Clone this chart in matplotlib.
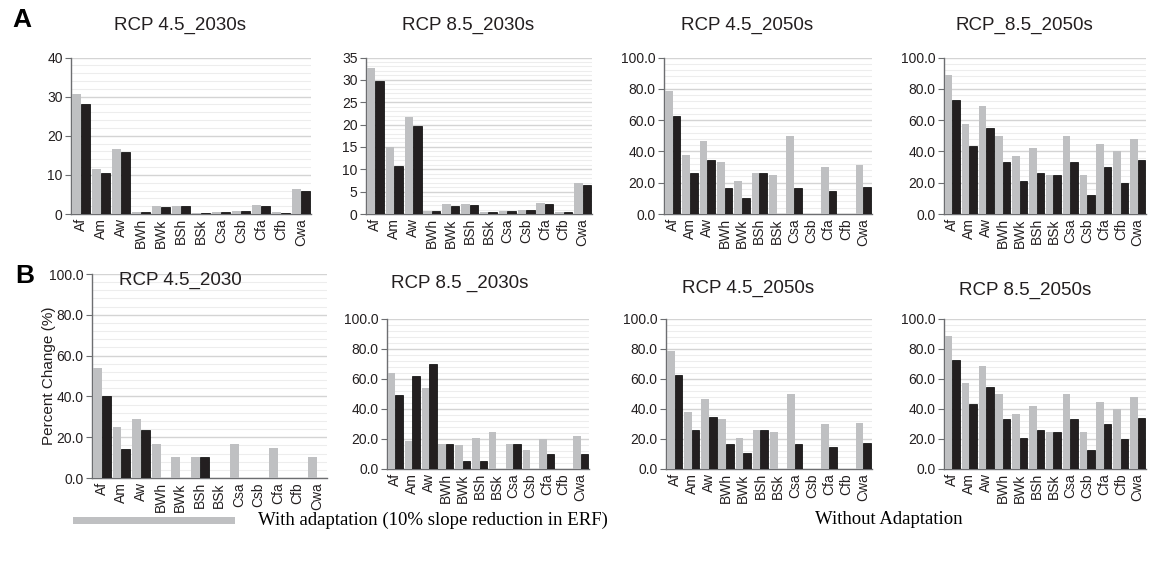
import matplotlib
matplotlib.use("Agg")
import matplotlib.pyplot as plt
import numpy as np
from matplotlib.ticker import MultipleLocator, FormatStrFormatter

W, H = 1157, 562

categories = ["Af", "Am", "Aw", "BWh", "BWk", "BSh", "BSk", "Csa", "Csb", "Cfa", "Cfb", "Cwa"]

# Panel A
a_45_2030_adapt = [30.7, 11.5, 16.6, 0.6, 2.0, 2.0, 0.3, 0.6, 0.8, 2.3, 0.4, 6.4]
a_45_2030_noadapt = [28.0, 10.5, 15.9, 0.5, 1.8, 2.0, 0.3, 0.5, 0.8, 2.0, 0.3, 5.8]
a_85_2030_adapt = [32.6, 14.9, 21.8, 0.6, 2.2, 2.3, 0.4, 0.7, 0.9, 2.4, 0.4, 7.0]
a_85_2030_noadapt = [29.7, 10.8, 19.7, 0.7, 1.9, 2.0, 0.4, 0.7, 0.8, 2.2, 0.5, 6.4]
a_45_2050_adapt = [78.6, 38.0, 46.9, 33.3, 21.0, 26.3, 25.0, 49.9, 0.0, 29.9, 0.0, 31.0]
a_45_2050_noadapt = [62.4, 26.1, 34.4, 16.6, 10.4, 26.1, 0.0, 16.6, 0.0, 14.9, 0.0, 17.2]
a_85_2050_adapt = [88.6, 57.6, 69.0, 50.0, 36.8, 42.1, 24.8, 50.0, 24.8, 45.0, 40.0, 48.2]
a_85_2050_noadapt = [72.7, 43.6, 54.8, 33.3, 20.9, 26.2, 24.8, 33.3, 12.4, 29.9, 19.9, 34.3]

# Panel B
b_45_2030_adapt = [54.1, 24.8, 28.9, 16.6, 10.3, 10.3, 0.0, 16.6, 0.0, 14.9, 0.0, 10.3]
b_45_2030_noadapt = [40.2, 14.1, 23.4, 0.0, 0.0, 10.3, 0.0, 0.0, 0.0, 0.0, 0.0, 0.0]
b_85_2030_adapt = [64.1, 18.4, 53.9, 16.6, 15.7, 20.8, 24.8, 16.6, 12.4, 20.0, 0.0, 22.2]
b_85_2030_noadapt = [49.2, 61.9, 70.3, 16.6, 5.1, 5.1, 0.0, 16.6, 0.0, 9.8, 0.0, 10.2]
b_45_2050_adapt = list(a_45_2050_adapt)
b_45_2050_noadapt = list(a_45_2050_noadapt)
b_85_2050_adapt = list(a_85_2050_adapt)
b_85_2050_noadapt = list(a_85_2050_noadapt)

titles_a = ["RCP 4.5_2030s", "RCP 8.5_2030s", "RCP 4.5_2050s", "RCP_8.5_2050s"]
titles_b = ["RCP 4.5_2030", "RCP 8.5 _2030s", "RCP 4.5_2050s", "RCP 8.5_2050s"]
legend_labels = ["With adaptation (10% slope reduction in ERF)", "Without Adaptation"]

GRAY = "#bfc0c2"
BLACK = "#231f20"
TXT = "#231f20"
SPINE = "#6d6e71"

plt.rcParams["font.family"] = ["Liberation Sans", "DejaVu Sans"]

fig = plt.figure(figsize=(W / 100, H / 100), dpi=100)
fig.patch.set_facecolor("white")


def box(x0, y0, x1, y1):
    return [x0 / W, 1 - y1 / H, (x1 - x0) / W, (y1 - y0) / H]


def panel(rect, adapt, noadapt, ymax, major, minor, fmt):
    ax = fig.add_axes(rect)
    x = np.arange(len(categories))
    ax.bar(x - 0.225, adapt, width=0.45, color=GRAY, edgecolor="none", zorder=3)
    ax.bar(x + 0.225, noadapt, width=0.45, color=BLACK, edgecolor="#000000",
           linewidth=0.5, zorder=3)
    ax.set_xlim(-0.5, len(categories) - 0.5)
    ax.set_ylim(0, ymax)
    ax.yaxis.set_major_locator(MultipleLocator(major))
    ax.yaxis.set_minor_locator(MultipleLocator(minor))
    ax.yaxis.set_major_formatter(FormatStrFormatter(fmt))
    ax.grid(axis="y", which="major", color="#d4d4d4", linewidth=1.0, zorder=0)
    ax.grid(axis="y", which="minor", color="#ededed", linewidth=0.8, zorder=0)
    ax.set_axisbelow(True)
    for s in ["top", "right"]:
        ax.spines[s].set_visible(False)
    for s in ["left", "bottom"]:
        ax.spines[s].set_color(SPINE)
        ax.spines[s].set_linewidth(1.0)
    ax.set_xticks(x)
    ax.set_xticklabels(categories, rotation=90, fontsize=10, color=TXT)
    ax.tick_params(axis="x", length=0, pad=3)
    ax.tick_params(axis="y", which="major", length=4, width=0.8, color=SPINE,
                   labelsize=10, labelcolor=TXT, pad=2)
    ax.tick_params(axis="y", which="minor", length=0)
    return ax


top_rects = [box(71, 57.5, 311, 214), box(366, 57.5, 592, 214),
             box(664, 57.5, 872, 214), box(944, 57.5, 1146, 214)]
bot_rects = [box(92, 274, 327, 478), box(387, 319, 589, 469),
             box(666, 319, 872, 469), box(944, 319, 1146, 469)]

top_data = [(a_45_2030_adapt, a_45_2030_noadapt, 40, 10, 2, "%d"),
            (a_85_2030_adapt, a_85_2030_noadapt, 35, 5, 1, "%d"),
            (a_45_2050_adapt, a_45_2050_noadapt, 100, 20, 4, "%.1f"),
            (a_85_2050_adapt, a_85_2050_noadapt, 100, 20, 4, "%.1f")]
bot_data = [(b_45_2030_adapt, b_45_2030_noadapt, 100, 20, 4, "%.1f"),
            (b_85_2030_adapt, b_85_2030_noadapt, 100, 20, 4, "%.1f"),
            (b_45_2050_adapt, b_45_2050_noadapt, 100, 20, 4, "%.1f"),
            (b_85_2050_adapt, b_85_2050_noadapt, 100, 20, 4, "%.1f")]

for r, d in zip(top_rects, top_data):
    panel(r, *d)
bot_axes = []
for r, d in zip(bot_rects, bot_data):
    bot_axes.append(panel(r, *d))

bot_axes[0].set_ylabel("Percent Change (%)", fontsize=11, color=TXT, labelpad=-5)


def ftext(px, py, s, **kw):
    fig.text(px / W, 1 - py / H, s, **kw)


top_title_pos = [(180, 25), (468, 25), (747, 25), (1024, 25)]
bot_title_pos = [(180, 280), (460, 283), (748, 288), (1025, 290)]
for (px, py), t in zip(top_title_pos, titles_a):
    ftext(px, py, t, ha="center", va="center", fontsize=13.5, color=TXT)
for (px, py), t in zip(bot_title_pos, titles_b):
    ftext(px, py, t, ha="center", va="center", fontsize=13.5, color=TXT)

ftext(22, 20, "A", ha="center", va="center", fontsize=19, fontweight="bold", color="#000000")
ftext(25, 276, "B", ha="center", va="center", fontsize=19, fontweight="bold", color="#000000")

# Legend
fig.patches.append(matplotlib.patches.Rectangle((73 / W, 1 - 524 / H), (235 - 73) / W, 7 / H,
                                                transform=fig.transFigure, facecolor=GRAY,
                                                edgecolor="none"))
ftext(258, 520, legend_labels[0], ha="left", va="center", fontsize=13.5,
      family="Liberation Serif", color="#000000")
ftext(815, 520, legend_labels[1], ha="left", va="center", fontsize=13.5,
      family="Liberation Serif", color="#000000")

fig.savefig("out.png", dpi=100, facecolor="white")
